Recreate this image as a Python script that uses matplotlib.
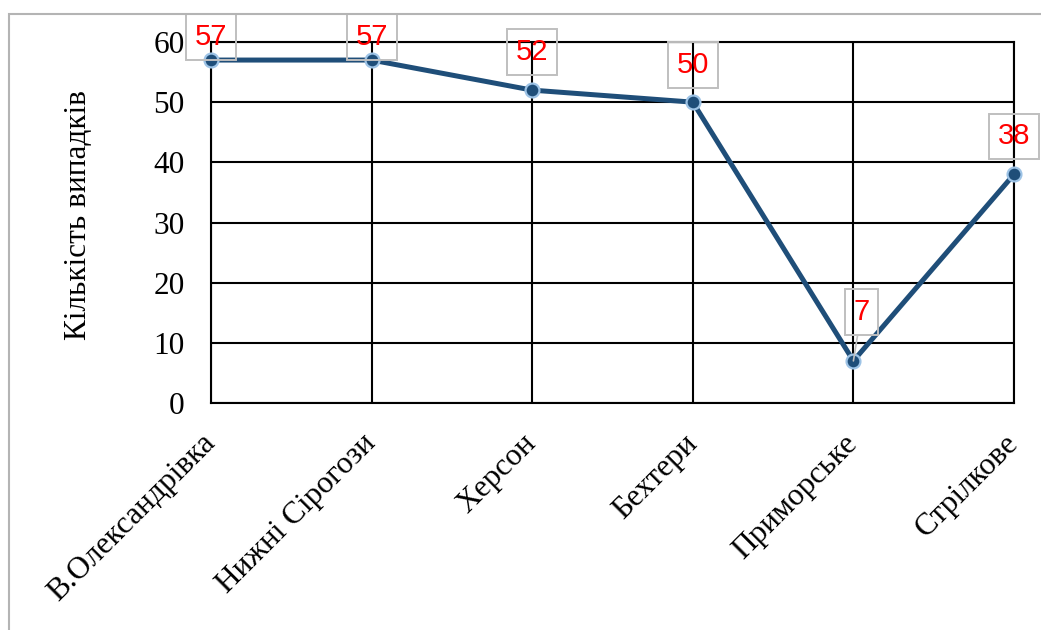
import matplotlib

matplotlib.use("Agg")
import matplotlib.pyplot as plt
from matplotlib.patches import Rectangle

# cases per settlement
places = ["В.Олександрівка", "Нижні Сірогози", "Херсон", "Бехтери",
          "Приморське", "Стрілкове"]
cases = [57, 57, 52, 50, 7, 38]

# label box offsets from the marker (pixels); the first two are held
# inside the chart frame, the low one sits higher with a leader line
label_dx = [0, 0, 0, 0, 8, 0]
label_dy = [23, 23, 38, 37, 49, 38]

W, H = 1041, 630
fig = plt.figure(figsize=(W / 100, H / 100), dpi=100)
ax = fig.add_axes([211 / W, 1 - 403 / H, 803 / W, 361 / H])

serif = "Liberation Serif"
line_col = "#1F4E79"

x = list(range(len(places)))
ax.plot(x, cases, color=line_col, lw=3.6, zorder=4, solid_capstyle="round",
        clip_on=False)
ax.plot(x, cases, ls="none", marker="o", ms=10, mfc=line_col,
        mec="#9DC3E6", mew=1.6, zorder=5, clip_on=False)

for i, v in enumerate(cases):
    leader = label_dy[i] > 40
    ax.annotate(
        str(v), (i, v), xytext=(label_dx[i], label_dy[i]),
        textcoords="offset pixels", ha="center", va="center",
        color="red", fontsize=21, family="Liberation Sans", zorder=6,
        bbox=dict(boxstyle="square,pad=0.3", fc="none", ec="#BFBFBF",
                  lw=1.4),
        arrowprops=dict(arrowstyle="-", color="#BFBFBF", lw=1.2,
                        shrinkA=0, shrinkB=0) if leader else None,
        annotation_clip=False)

ax.set_xlim(0, len(places) - 1)
ax.set_ylim(0, 60)
ax.set_yticks(range(0, 61, 10))
ax.set_xticks(x)
ax.set_xticklabels(places, rotation=45, ha="right", va="center",
                   rotation_mode="anchor", family=serif, fontsize=22.5)
for lab in ax.get_yticklabels():
    lab.set_family(serif)
    lab.set_fontsize(22.5)
ax.tick_params(axis="both", length=0)
ax.tick_params(axis="y", pad=19)
ax.tick_params(axis="x", pad=26)

ax.grid(True, color="black", lw=1.5)
ax.set_axisbelow(True)
for sp in ax.spines.values():
    sp.set_color("black")
    sp.set_linewidth(1.5)

fig.text(78 / W, 1 - 215 / H, "Кількість випадків", rotation=90,
         ha="center", va="center", family=serif, fontsize=22.5)

# chart frame, only its top and left edges fall inside the image
fig.patches.append(Rectangle((9 / W, -0.2), 1.5, 1.2 - 14 / H,
                             transform=fig.transFigure, fill=False,
                             ec="#B4B4B4", lw=1.5, zorder=0))

fig.savefig("out.png", dpi=100)
